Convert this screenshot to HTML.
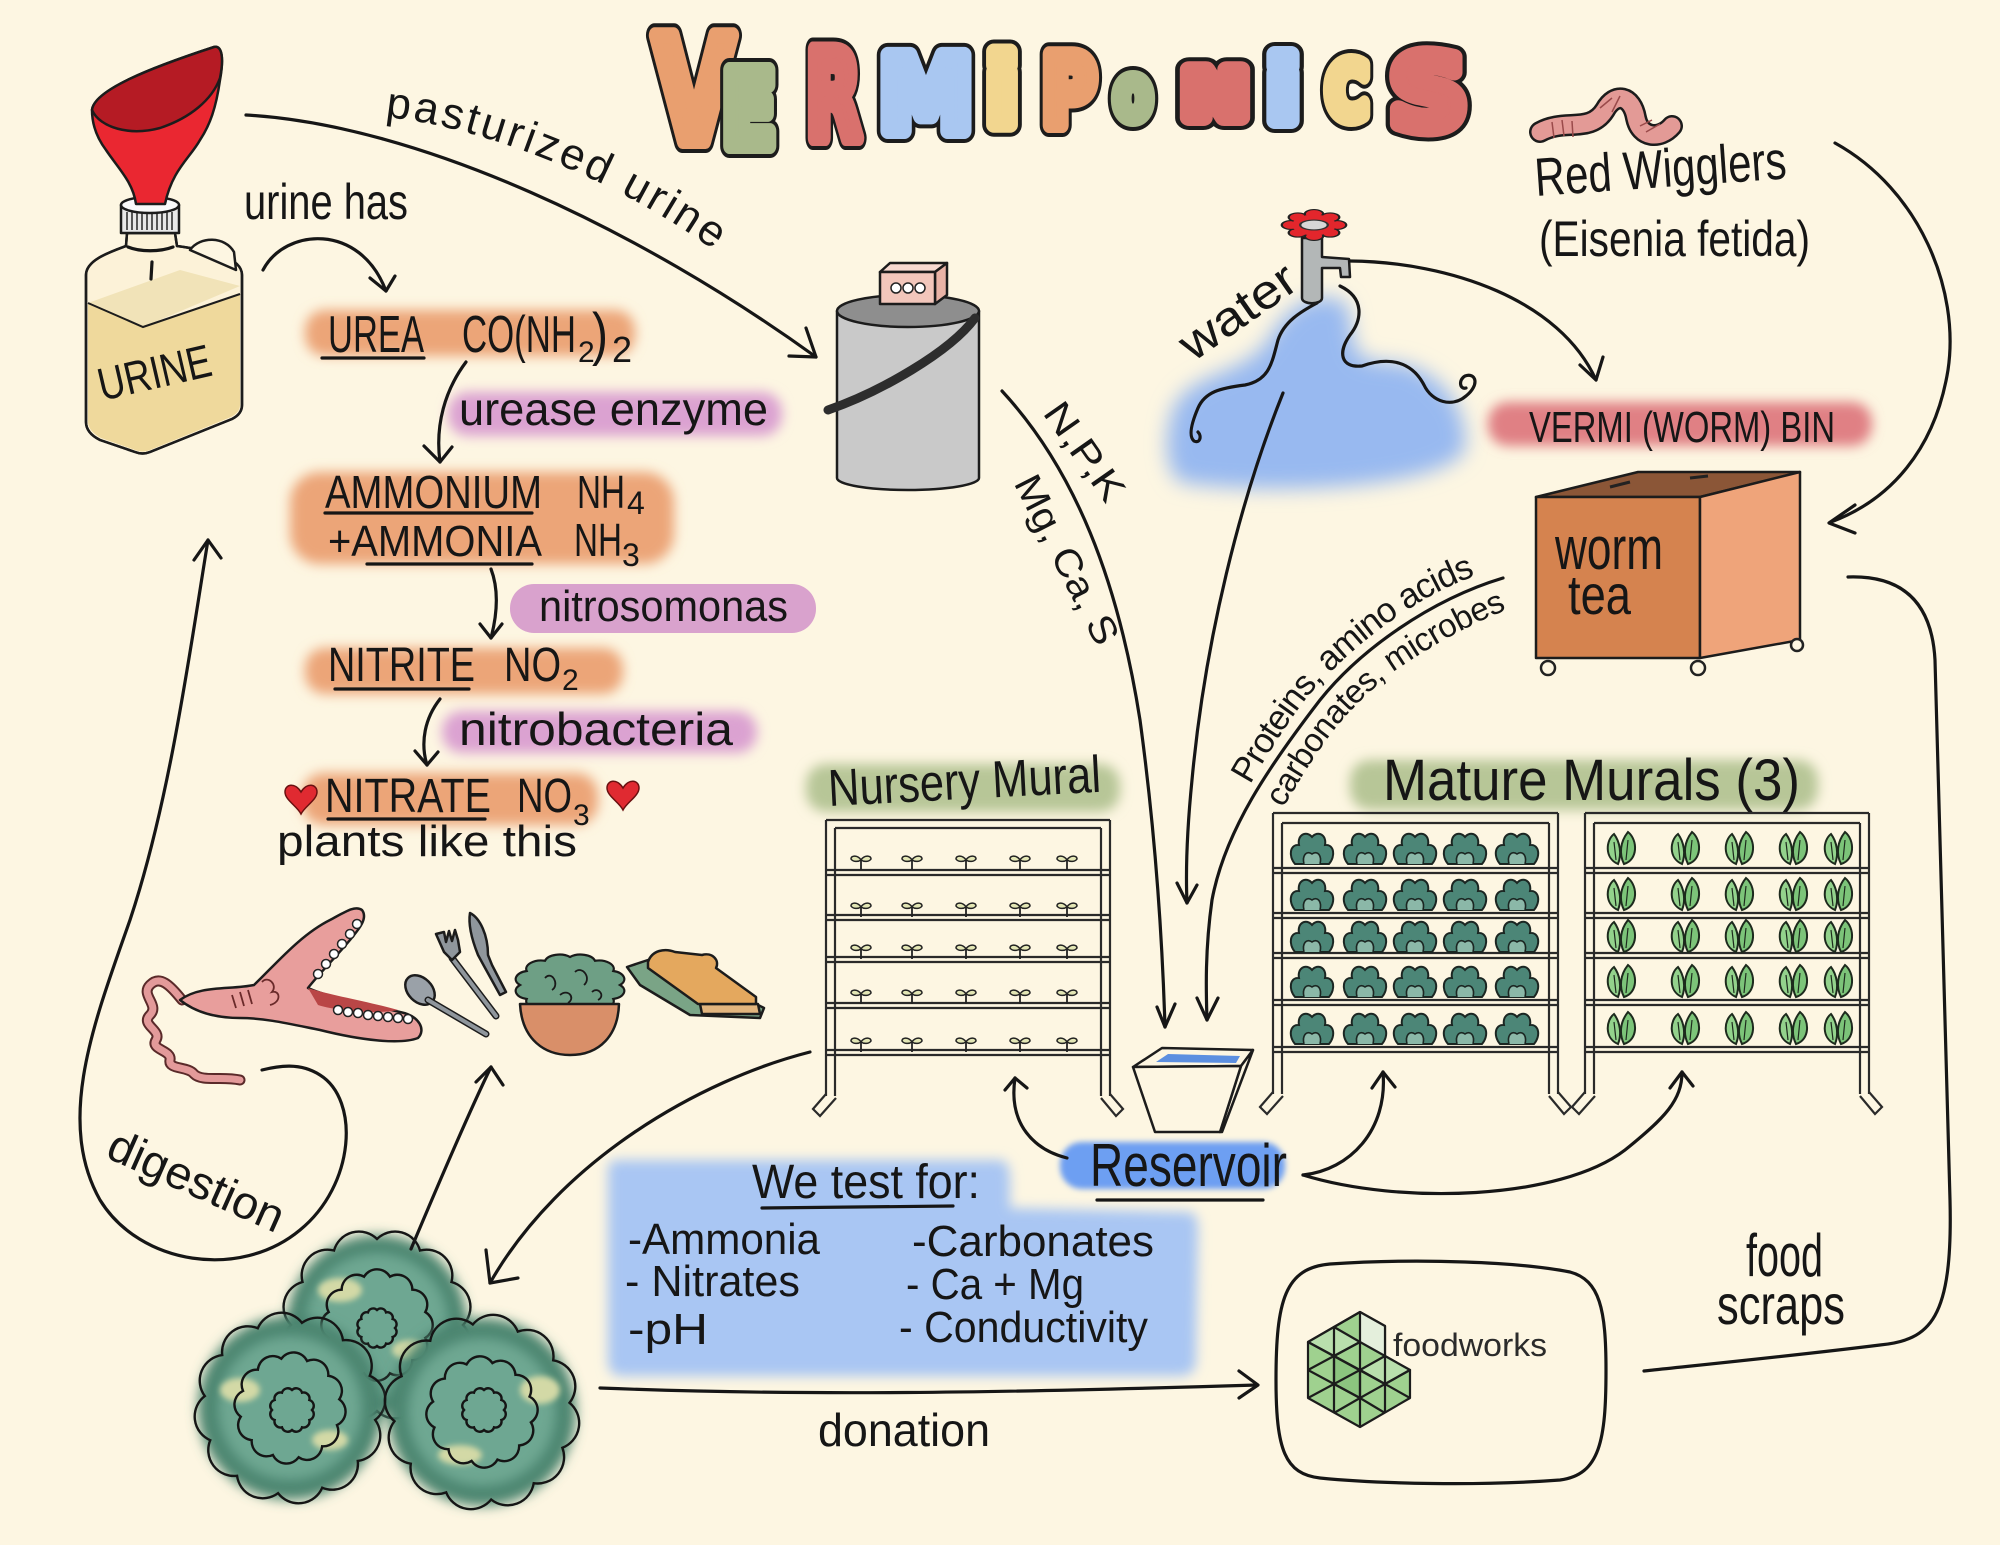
<!DOCTYPE html>
<html><head><meta charset="utf-8"><title>Vermiponics</title>
<style>
html,body{margin:0;padding:0;background:#fdf6e2;width:2000px;height:1545px;overflow:hidden}
svg{display:block}
.l{fill:none;stroke:#161616;stroke-width:3.2;stroke-linecap:round;stroke-linejoin:round}
.t{font-family:"Liberation Sans",sans-serif;fill:#161616}
.r{fill:none;stroke:#2a2a2a;stroke-width:2.2}
.o{stroke:#1c1c1c;stroke-width:2.5;stroke-linejoin:round}
.sco{fill:none;stroke:#151515;stroke-width:2.4}
</style></head><body>
<svg width="2000" height="1545" viewBox="0 0 2000 1545" xmlns="http://www.w3.org/2000/svg">
<defs>
<filter id="b6" x="-40%" y="-80%" width="180%" height="260%"><feGaussianBlur stdDeviation="6"/></filter>
<filter id="b10" x="-40%" y="-80%" width="180%" height="260%"><feGaussianBlur stdDeviation="10"/></filter>
<filter id="b3" x="-30%" y="-30%" width="160%" height="160%"><feGaussianBlur stdDeviation="3"/></filter>
<path id="sc" vector-effect="non-scaling-stroke" d="M100,0 A30,30 0 0 1 86.6,50 A30,30 0 0 1 50,86.6 A30,30 0 0 1 0,100 A30,30 0 0 1 -50,86.6 A30,30 0 0 1 -86.6,50 A30,30 0 0 1 -100,0 A30,30 0 0 1 -86.6,-50 A30,30 0 0 1 -50,-86.6 A30,30 0 0 1 0,-100 A30,30 0 0 1 50,-86.6 A30,30 0 0 1 86.6,-50 A30,30 0 0 1 100,0 Z"/>
<g id="lt">
<path d="M-17,14 C-24,6 -22,-6 -13,-5 C-15,-15 -6,-20 0,-13 C6,-20 15,-15 13,-5 C22,-6 24,6 17,14 Z" fill="#4c8677" stroke="#1b2622" stroke-width="2"/>
<path d="M-8,14 C-10,6 -6,0 0,4 C6,0 10,6 8,14" fill="#8bb8a8" stroke="#1b2622" stroke-width="1.6"/>
</g>
<g id="lf">
<path d="M-4,14 C-18,8 -16,-10 -8,-16 C-2,-8 0,4 -4,14 Z" fill="#93d28c" stroke="#1d2a1d" stroke-width="2"/>
<path d="M2,14 C16,10 16,-10 6,-18 C-2,-8 -3,4 2,14 Z" fill="#7cc479" stroke="#1d2a1d" stroke-width="2"/>
<path d="M-6,10 L-8,-8 M4,10 L6,-10" stroke="#1d2a1d" stroke-width="1.2" fill="none"/>
</g>
<g id="sd">
<path d="M0,7 L0,-3" stroke="#222" stroke-width="1.8" fill="none"/>
<path d="M0,-3 C-3,-8 -10,-8 -10,-4 C-8,-1 -3,-1 0,-3 Z M0,-3 C3,-8 10,-8 10,-4 C8,-1 3,-1 0,-3 Z" fill="#e3e6b4" stroke="#222" stroke-width="1.5"/>
</g>
<path id="hrt" d="M0,14 C-4,6 -16,0 -16,-8 C-16,-16 -6,-18 0,-8 C6,-18 16,-16 16,-8 C16,0 4,6 0,14 Z"/>
<path id="pp" d="M385,117 C470,125 600,170 708,246" fill="none"/>
<path id="p1" d="M1250,785 C1270,750 1292,716 1310,694 C1337,663 1378,626 1427,598 C1448,586 1473,575 1505,567" fill="none"/>
<path id="p2" d="M1283,808 C1300,780 1320,745 1345,717 C1365,695 1382,680 1402,666 C1432,646 1472,622 1522,604" fill="none"/>
</defs>
<rect width="2000" height="1545" fill="#fdf6e2"/>

<!-- TITLE -->
<g font-family="DejaVu Sans, sans-serif" font-weight="bold" stroke-linejoin="round">
<text x="654" y="141" font-size="145" textLength="80" lengthAdjust="spacingAndGlyphs" fill="#1c1c1c" stroke="#1c1c1c" stroke-width="24">V</text>
<text x="654" y="141" font-size="145" textLength="80" lengthAdjust="spacingAndGlyphs" fill="#e99f6f" stroke="#e99f6f" stroke-width="16">V</text>
<text x="722" y="146" font-size="104" textLength="54" lengthAdjust="spacingAndGlyphs" fill="#1c1c1c" stroke="#1c1c1c" stroke-width="24">E</text>
<text x="722" y="146" font-size="104" textLength="54" lengthAdjust="spacingAndGlyphs" fill="#a9b98b" stroke="#a9b98b" stroke-width="16">E</text>
<text x="806" y="138" font-size="121" textLength="55" lengthAdjust="spacingAndGlyphs" fill="#1c1c1c" stroke="#1c1c1c" stroke-width="24">R</text>
<text x="806" y="138" font-size="121" textLength="55" lengthAdjust="spacingAndGlyphs" fill="#d9716d" stroke="#d9716d" stroke-width="16">R</text>
<text x="879" y="131" font-size="104" textLength="94" lengthAdjust="spacingAndGlyphs" fill="#1c1c1c" stroke="#1c1c1c" stroke-width="24">M</text>
<text x="879" y="131" font-size="104" textLength="94" lengthAdjust="spacingAndGlyphs" fill="#a9c7f1" stroke="#a9c7f1" stroke-width="16">M</text>
<text x="986" y="125" font-size="96" textLength="32" lengthAdjust="spacingAndGlyphs" fill="#1c1c1c" stroke="#1c1c1c" stroke-width="24">i</text>
<text x="986" y="125" font-size="96" textLength="32" lengthAdjust="spacingAndGlyphs" fill="#f2d68f" stroke="#f2d68f" stroke-width="16">i</text>
<text x="1042" y="125" font-size="97" textLength="54" lengthAdjust="spacingAndGlyphs" fill="#1c1c1c" stroke="#1c1c1c" stroke-width="24">P</text>
<text x="1042" y="125" font-size="97" textLength="54" lengthAdjust="spacingAndGlyphs" fill="#e99f6f" stroke="#e99f6f" stroke-width="16">P</text>
<text x="1115" y="118" font-size="54" textLength="36" lengthAdjust="spacingAndGlyphs" fill="#1c1c1c" stroke="#1c1c1c" stroke-width="24">O</text>
<text x="1115" y="118" font-size="54" textLength="36" lengthAdjust="spacingAndGlyphs" fill="#a9b98b" stroke="#a9b98b" stroke-width="16">O</text>
<text x="1182" y="118" font-size="67" textLength="66" lengthAdjust="spacingAndGlyphs" fill="#1c1c1c" stroke="#1c1c1c" stroke-width="24">N</text>
<text x="1182" y="118" font-size="67" textLength="66" lengthAdjust="spacingAndGlyphs" fill="#d9716d" stroke="#d9716d" stroke-width="16">N</text>
<text x="1267" y="121" font-size="88" textLength="32" lengthAdjust="spacingAndGlyphs" fill="#1c1c1c" stroke="#1c1c1c" stroke-width="24">i</text>
<text x="1267" y="121" font-size="88" textLength="32" lengthAdjust="spacingAndGlyphs" fill="#a9c7f1" stroke="#a9c7f1" stroke-width="16">i</text>
<text x="1326" y="118" font-size="77" textLength="42" lengthAdjust="spacingAndGlyphs" fill="#1c1c1c" stroke="#1c1c1c" stroke-width="24">C</text>
<text x="1326" y="118" font-size="77" textLength="42" lengthAdjust="spacingAndGlyphs" fill="#f2d68f" stroke="#f2d68f" stroke-width="16">C</text>
<text x="1390" y="128" font-size="101" textLength="77" lengthAdjust="spacingAndGlyphs" fill="#1c1c1c" stroke="#1c1c1c" stroke-width="24">S</text>
<text x="1390" y="128" font-size="101" textLength="77" lengthAdjust="spacingAndGlyphs" fill="#d9716d" stroke="#d9716d" stroke-width="16">S</text>
</g>

<!-- HIGHLIGHTS -->
<rect x="305" y="310" width="330" height="46" rx="20" fill="#eca578" filter="url(#b6)"/>
<rect x="448" y="392" width="334" height="44" rx="20" fill="#dba2d1" filter="url(#b6)"/>
<rect x="290" y="472" width="384" height="92" rx="30" fill="#eca578" filter="url(#b6)"/>
<rect x="510" y="584" width="306" height="49" rx="24" fill="#d9a2cd"/>
<rect x="305" y="648" width="318" height="46" rx="20" fill="#eca578" filter="url(#b6)"/>
<rect x="442" y="711" width="315" height="42" rx="20" fill="#dba2d1" filter="url(#b6)"/>
<rect x="302" y="773" width="296" height="52" rx="22" fill="#eca578" filter="url(#b6)"/>
<rect x="1488" y="402" width="384" height="44" rx="20" fill="#e08084" filter="url(#b6)"/>
<rect x="806" y="764" width="314" height="48" rx="20" fill="#b7c697" filter="url(#b6)"/>
<rect x="1350" y="760" width="468" height="50" rx="20" fill="#b7c697" filter="url(#b6)"/>
<path d="M618,1160 L1000,1160 C1008,1160 1010,1170 1010,1180 L1010,1208 L1188,1212 C1196,1212 1198,1220 1198,1230 L1196,1362 C1196,1372 1188,1376 1180,1376 L622,1376 C612,1376 608,1370 608,1360 L608,1170 C608,1162 612,1160 618,1160 Z" fill="#a9c6f3" filter="url(#b6)"/>
<rect x="1060" y="1142" width="225" height="47" rx="22" fill="#6d9ff2" filter="url(#b3)"/>
<path d="M1170,420 C1180,370 1240,380 1268,340 C1290,300 1320,290 1345,302 C1360,330 1340,360 1385,362 C1430,362 1470,400 1465,450 C1440,492 1250,495 1180,482 C1165,470 1165,440 1170,420 Z" fill="#98b9f0" filter="url(#b10)"/>

<!-- BOTTLE -->
<path class="o" d="M127,233 L175,233 L177,246 C205,250 242,256 242,275 L242,405 C242,412 238,416 232,419 L150,452 C145,454 140,454 135,452 L100,440 C92,436 86,430 86,422 L86,275 C86,260 110,252 126,246 Z" fill="#fcf2d8"/>
<path d="M88,303 L143,327 L240,294 L240,405 C240,411 236,414 231,417 L150,450 C145,452 140,452 135,450 L101,438 C94,434 88,429 88,421 Z" fill="#efd99c"/>
<path d="M88,303 L180,270 L240,286 L143,327 Z" fill="#f1e3b8"/>
<path d="M88,303 L143,327 L240,294" fill="none" stroke="#1c1c1c" stroke-width="2"/>
<path class="o" fill="none" d="M127,233 L175,233 L177,246 C205,250 242,256 242,275 L242,405 C242,412 238,416 232,419 L150,452 C145,454 140,454 135,452 L100,440 C92,436 86,430 86,422 L86,275 C86,260 110,252 126,246 Z"/>
<path class="o" d="M190,250 C200,236 225,236 234,252 L236,270 Z" fill="#fdf6e2"/>
<path class="l" stroke-width="2" d="M152,262 L151,279"/>
<path class="l" stroke-width="2" d="M128,247 C140,252 160,252 173,247"/>
<rect class="o" x="121" y="205" width="58" height="28" fill="#e8e8e8"/>
<path d="M127,212 L127,230 M132,212 L132,230 M137,212 L137,230 M142,212 L142,230 M147,212 L147,230 M152,212 L152,230 M157,212 L157,230 M162,212 L162,230 M167,212 L167,230 M172,212 L172,230" stroke="#333" stroke-width="1.6"/>
<ellipse class="o" cx="150" cy="205" rx="29" ry="8" fill="#fafafa"/>
<path class="o" d="M92,110 C94,90 150,68 214,47 C222,45 224,58 220,80 C216,108 210,125 200,140 C190,158 172,170 165,204 L136,204 C133,182 118,168 106,150 C97,138 92,125 92,110 Z" fill="#ea2731"/>
<path class="o" d="M92,110 C94,90 150,68 214,47 C222,45 224,58 220,78 C212,100 190,118 160,128 C130,136 100,128 92,110 Z" fill="#b51b24"/>
<text class="t" font-size="46" text-anchor="middle" transform="translate(158,388) rotate(-13)" textLength="115" lengthAdjust="spacingAndGlyphs">URINE</text>

<!-- PASTEURIZER -->
<path class="o" d="M837,311 L837,478 A71,12 0 0 0 979,478 L979,311 Z" fill="#c9c9c9"/>
<ellipse class="o" cx="908" cy="311" rx="71" ry="16" fill="#8e8e8e"/>
<path d="M975,318 C950,352 880,392 828,410" fill="none" stroke="#2d2d2d" stroke-width="9" stroke-linecap="round"/>
<path d="M880,272 L890,263 L947,263 L935,272 Z" class="o" fill="#f7d9d0"/>
<path d="M935,272 L947,263 L947,295 L935,304 Z" class="o" fill="#e9b3a6"/>
<rect class="o" x="880" y="272" width="55" height="32" fill="#f2c6bb"/>
<circle cx="896" cy="288" r="5" fill="#fff" stroke="#222" stroke-width="1.5"/>
<circle cx="908" cy="288" r="5" fill="#fff" stroke="#222" stroke-width="1.5"/>
<circle cx="920" cy="288" r="5" fill="#fff" stroke="#222" stroke-width="1.5"/>

<!-- TEXT LEFT -->
<text class="t" font-size="44" letter-spacing="3"><textPath href="#pp">pasturized urine</textPath></text>
<text class="t" font-size="50" x="244" y="219" textLength="164" lengthAdjust="spacingAndGlyphs">urine has</text>
<text class="t" font-size="52" x="328" y="352" textLength="96" lengthAdjust="spacingAndGlyphs">UREA</text>
<text class="t" font-size="52" x="462" y="352" textLength="114" lengthAdjust="spacingAndGlyphs">CO(NH</text>
<text class="t" font-size="30" x="578" y="362">2</text>
<text class="t" font-size="58" x="592" y="354" textLength="16" lengthAdjust="spacingAndGlyphs">)</text>
<text class="t" font-size="36" x="612" y="362">2</text>
<text class="t" font-size="46" x="459" y="425" textLength="309" lengthAdjust="spacingAndGlyphs">urease enzyme</text>
<text class="t" font-size="46" x="325" y="508" textLength="217" lengthAdjust="spacingAndGlyphs">AMMONIUM</text>
<text class="t" font-size="46" x="577" y="508" textLength="48" lengthAdjust="spacingAndGlyphs">NH</text>
<text class="t" font-size="32" x="627" y="514">4</text>
<text class="t" font-size="44" x="328" y="556" textLength="214" lengthAdjust="spacingAndGlyphs">+AMMONIA</text>
<text class="t" font-size="46" x="574" y="556" textLength="48" lengthAdjust="spacingAndGlyphs">NH</text>
<text class="t" font-size="32" x="622" y="566">3</text>
<text class="t" font-size="44" x="539" y="621" textLength="249" lengthAdjust="spacingAndGlyphs">nitrosomonas</text>
<text class="t" font-size="48" x="328" y="681" textLength="147" lengthAdjust="spacingAndGlyphs">NITRITE</text>
<text class="t" font-size="48" x="504" y="681" textLength="57" lengthAdjust="spacingAndGlyphs">NO</text>
<text class="t" font-size="30" x="562" y="690">2</text>
<text class="t" font-size="46" x="459" y="745" textLength="274" lengthAdjust="spacingAndGlyphs">nitrobacteria</text>
<text class="t" font-size="48" x="325" y="812" textLength="166" lengthAdjust="spacingAndGlyphs">NITRATE</text>
<text class="t" font-size="48" x="517" y="812" textLength="55" lengthAdjust="spacingAndGlyphs">NO</text>
<text class="t" font-size="30" x="573" y="825">3</text>
<text class="t" font-size="44" x="277" y="856" textLength="300" lengthAdjust="spacingAndGlyphs">plants like this</text>
<use href="#hrt" transform="translate(301,800)" fill="#e02a31" stroke="#6a1010" stroke-width="1.5"/>
<use href="#hrt" transform="translate(623,796)" fill="#e02a31" stroke="#6a1010" stroke-width="1.5"/>
<path class="l" stroke-width="3" d="M322,358 L424,358 M325,513 L532,513 M367,564 L532,564 M335,689 L469,689 M328,819 L485,819"/>

<!-- LEFT ARROWS -->
<path class="l" d="M246,115 C420,125 640,230 816,357"/>
<path class="l" d="M806,328 L816,357 L789,356"/>
<path class="l" d="M263,270 C285,228 360,222 386,291"/>
<path class="l" d="M370,278 L386,291 L395,276"/>
<path class="l" d="M466,362 C445,390 435,425 440,462"/>
<path class="l" d="M424,446 L440,462 L452,447"/>
<path class="l" d="M491,569 C499,590 497,615 491,638"/>
<path class="l" d="M480,624 L491,638 L502,624"/>
<path class="l" d="M440,699 C425,718 420,742 427,765"/>
<path class="l" d="M415,751 L427,765 L438,752"/>
<path class="l" d="M208,540 C190,650 170,800 130,920 C95,1020 55,1120 100,1200 C140,1265 240,1280 300,1230 C355,1185 360,1100 320,1075 C300,1062 278,1066 262,1070"/>
<path class="l" d="M194,560 L208,540 L221,558"/>
<text class="t" font-size="46" text-anchor="middle" transform="translate(190,1195) rotate(24)" textLength="188" lengthAdjust="spacingAndGlyphs">digestion</text>

<!-- MOUTH & FOOD -->
<path d="M182,1000 C170,985 160,975 150,985 C140,995 160,1005 150,1015 C140,1025 162,1030 156,1040 C150,1050 172,1050 170,1060 C168,1070 188,1066 194,1074 C202,1082 222,1076 240,1080" fill="none" stroke="#5a2a2a" stroke-width="11" stroke-linecap="round" stroke-linejoin="round"/>
<path d="M182,1000 C170,985 160,975 150,985 C140,995 160,1005 150,1015 C140,1025 162,1030 156,1040 C150,1050 172,1050 170,1060 C168,1070 188,1066 194,1074 C202,1082 222,1076 240,1080" fill="none" stroke="#e39a9a" stroke-width="7" stroke-linecap="round" stroke-linejoin="round"/>
<path class="o" d="M180,1000 C200,985 230,990 254,985 C275,965 300,935 330,920 C345,912 355,905 362,910 C368,918 360,928 350,940 C335,958 318,975 308,988 C330,998 370,1005 400,1012 C420,1016 426,1030 418,1038 C400,1045 360,1040 320,1030 C290,1024 265,1018 240,1018 C215,1018 195,1012 180,1000 Z" fill="#e89e9c"/>
<path d="M308,988 C330,995 370,1002 398,1010 C380,1014 340,1012 318,1005 Z" fill="#b94646"/>
<g fill="#fff" stroke="#222" stroke-width="1.5">
<circle cx="357" cy="924" r="4.5"/><circle cx="350" cy="934" r="4.5"/><circle cx="342" cy="944" r="4.5"/><circle cx="334" cy="954" r="4.5"/><circle cx="326" cy="964" r="4.5"/><circle cx="318" cy="974" r="4.5"/>
<circle cx="338" cy="1010" r="4.5"/><circle cx="348" cy="1012" r="4.5"/><circle cx="358" cy="1013" r="4.5"/><circle cx="368" cy="1015" r="4.5"/><circle cx="378" cy="1016" r="4.5"/><circle cx="388" cy="1017" r="4.5"/><circle cx="398" cy="1018" r="4.5"/><circle cx="408" cy="1019" r="4.5"/>
</g>
<path d="M232,995 L236,1008 M240,992 L244,1006 M248,990 L252,1004 M262,982 C268,975 278,985 272,992 C280,990 282,1002 270,1005" fill="none" stroke="#6a2a2a" stroke-width="1.8"/>
<ellipse class="o" cx="420" cy="990" rx="12" ry="17" transform="rotate(-45 420 990)" fill="#9aa1a8"/>
<path d="M428,1000 L486,1034" stroke="#1c1c1c" stroke-width="7" stroke-linecap="round"/>
<path d="M428,1000 L486,1034" stroke="#8f969c" stroke-width="4" stroke-linecap="round"/>
<path d="M452,958 L496,1016" stroke="#1c1c1c" stroke-width="7" stroke-linecap="round"/>
<path d="M452,958 L496,1016" stroke="#8f969c" stroke-width="4" stroke-linecap="round"/>
<path class="o" d="M436,934 L444,932 L446,942 L449,931 L452,941 L455,930 L458,940 L460,952 L452,960 L444,952 Z" fill="#8f969c"/>
<path class="o" d="M470,913 C480,918 488,935 488,955 L492,965 L506,992 L500,995 L484,966 L478,955 C472,940 468,925 470,913 Z" fill="#8f969c"/>
<use href="#sc" transform="translate(570,985) scale(0.5,0.28)" fill="#6e9f85" stroke="#1a1a1a" stroke-width="2.2"/>
<path d="M545,978 C552,970 560,985 552,990 M575,972 C582,965 592,978 584,985 M560,995 C568,988 576,998 568,1003 M592,992 C598,986 606,996 598,1000" fill="none" stroke="#1a1a1a" stroke-width="1.8"/>
<path class="o" d="M520,1004 C522,1040 545,1055 570,1055 C600,1055 618,1035 619,1004 Z" fill="#d98f69"/>
<path class="o" d="M627,967 L648,960 L700,975 L764,1008 L760,1018 L690,1015 L640,985 Z" fill="#7aa486"/>
<path class="o" d="M700,1004 L758,1004 L760,1014 L702,1014 Z" fill="#e2b57e"/>
<path class="o" d="M648,962 C652,950 665,948 675,952 L702,955 C712,952 720,960 716,968 L756,997 L756,1004 L698,1004 L648,968 Z" fill="#e4a85e"/>

<!-- LETTUCE PILE -->
<g>
<circle cx="377" cy="1325" r="90" fill="#4b8570" filter="url(#b6)"/>
<circle cx="377" cy="1325" r="72" fill="#6ea792" filter="url(#b6)"/>
<ellipse cx="340" cy="1290" rx="22" ry="12" fill="#d3d9a6" filter="url(#b3)"/>
<ellipse cx="410" cy="1350" rx="18" ry="10" fill="#d3d9a6" filter="url(#b3)"/>
<use href="#sc" class="sco" transform="translate(377,1325) scale(0.86)"/>
<use href="#sc" class="sco" transform="translate(377,1325) rotate(15) scale(0.5)"/>
<use href="#sc" class="sco" transform="translate(377,1328) scale(0.18)" style="fill:#6ea792"/>
</g>
<g>
<circle cx="290" cy="1408" r="92" fill="#4b8570" filter="url(#b6)"/>
<circle cx="290" cy="1408" r="72" fill="#6ea792" filter="url(#b6)"/>
<ellipse cx="240" cy="1390" rx="20" ry="12" fill="#d3d9a6" filter="url(#b3)"/>
<ellipse cx="330" cy="1440" rx="18" ry="10" fill="#d3d9a6" filter="url(#b3)"/>
<use href="#sc" class="sco" transform="translate(290,1408) rotate(8) scale(0.86)"/>
<use href="#sc" class="sco" transform="translate(290,1408) rotate(20) scale(0.5)"/>
<use href="#sc" class="sco" transform="translate(292,1410) scale(0.2)" style="fill:#6ea792"/>
</g>
<g>
<circle cx="482" cy="1412" r="94" fill="#4b8570" filter="url(#b6)"/>
<circle cx="482" cy="1412" r="74" fill="#6ea792" filter="url(#b6)"/>
<ellipse cx="540" cy="1390" rx="20" ry="14" fill="#d3d9a6" filter="url(#b3)"/>
<ellipse cx="460" cy="1455" rx="22" ry="10" fill="#d3d9a6" filter="url(#b3)"/>
<use href="#sc" class="sco" transform="translate(482,1412) rotate(-6) scale(0.88)"/>
<use href="#sc" class="sco" transform="translate(482,1412) rotate(12) scale(0.5)"/>
<use href="#sc" class="sco" transform="translate(484,1410) scale(0.2)" style="fill:#6ea792"/>
</g>

<path class="l" d="M810,1052 C700,1080 560,1160 490,1283"/>
<path class="l" d="M486,1250 L490,1283 L518,1278"/>
<path class="l" d="M411,1249 C440,1180 470,1110 491,1067"/>
<path class="l" d="M476,1082 L491,1067 L503,1085"/>

<!-- TEST BOX TEXT -->
<text class="t" font-size="48" x="752" y="1198" textLength="228" lengthAdjust="spacingAndGlyphs">We test for:</text>
<path class="l" d="M762,1208 L953,1206"/>
<text class="t" font-size="44" x="628" y="1254" textLength="192" lengthAdjust="spacingAndGlyphs">-Ammonia</text>
<text class="t" font-size="44" x="625" y="1296" textLength="175" lengthAdjust="spacingAndGlyphs">- Nitrates</text>
<text class="t" font-size="44" x="628" y="1344" textLength="80" lengthAdjust="spacingAndGlyphs">-pH</text>
<text class="t" font-size="44" x="912" y="1256" textLength="242" lengthAdjust="spacingAndGlyphs">-Carbonates</text>
<text class="t" font-size="44" x="906" y="1299" textLength="178" lengthAdjust="spacingAndGlyphs">- Ca + Mg</text>
<text class="t" font-size="44" x="899" y="1342" textLength="249" lengthAdjust="spacingAndGlyphs">- Conductivity</text>

<path class="l" d="M600,1388 C800,1396 1000,1393 1257,1385"/>
<path class="l" d="M1239,1371 L1258,1385 L1239,1398"/>
<text class="t" font-size="46" x="818" y="1446" textLength="172" lengthAdjust="spacingAndGlyphs">donation</text>

<!-- FOODWORKS -->
<path class="l" d="M1330,1264 C1420,1258 1520,1262 1570,1272 C1600,1280 1606,1310 1606,1370 C1606,1440 1600,1475 1560,1480 C1480,1486 1380,1484 1320,1478 C1285,1474 1276,1450 1276,1380 C1276,1300 1285,1268 1330,1264 Z"/>
<g stroke="#1c1c1c" stroke-width="2.2" stroke-linejoin="round">
<path d="M1308,1342 L1360,1312 L1385,1326 L1385,1356 L1410,1370 L1410,1398 L1360,1427 L1308,1398 Z" fill="#9fd18f"/>
<path d="M1360,1312 L1385,1326 L1385,1356 L1360,1342 Z" fill="#e4efdc"/>
<path d="M1308,1342 L1334,1327 L1360,1342 L1334,1356 Z" fill="#b9dfad"/>
<path d="M1334,1356 L1360,1370 L1360,1398 L1334,1384 Z" fill="#8cc57f"/>
<path d="M1385,1356 L1410,1370 L1385,1384 L1360,1370 Z" fill="#b9dfad"/>
<path fill="none" d="M1334,1327 L1360,1312 M1334,1327 L1334,1413 M1360,1342 L1360,1427 M1385,1356 L1385,1413 M1308,1370 L1360,1342 M1308,1370 L1360,1398 L1410,1370 M1308,1398 L1360,1370 L1410,1398 M1334,1356 L1385,1384 M1308,1342 L1385,1384 M1308,1370 L1334,1384 M1334,1413 L1360,1398 L1385,1413"/>
</g>
<text x="1393" y="1356" font-family="Liberation Sans, sans-serif" font-size="32" fill="#2b2b2b" textLength="154" lengthAdjust="spacingAndGlyphs">foodworks</text>

<!-- MIDDLE LINES -->
<path class="l" d="M1002,391 C1075,470 1118,580 1140,720 C1155,830 1162,930 1165,1027"/>
<path class="l" d="M1157,1007 L1165,1027 L1175,1004"/>
<path class="l" d="M1283,393 C1240,500 1205,640 1192,780 C1186,840 1186,880 1187,903"/>
<path class="l" d="M1177,883 L1187,903 L1197,885"/>
<path class="l" d="M1503,578 C1430,600 1360,650 1320,700 C1270,765 1225,830 1212,900 C1205,950 1206,990 1207,1020"/>
<path class="l" d="M1197,998 L1207,1020 L1218,998"/>
<text class="t" font-size="38" text-anchor="middle" dominant-baseline="central" transform="translate(1084,452) rotate(55)" textLength="112" lengthAdjust="spacingAndGlyphs">N,P,K</text>
<text class="t" font-size="38" text-anchor="middle" dominant-baseline="central" transform="translate(1066,560) rotate(63)" textLength="185" lengthAdjust="spacingAndGlyphs">Mg, Ca, S</text>
<text class="t" font-size="35" letter-spacing="-1"><textPath href="#p1">Proteins, amino acids</textPath></text>
<text class="t" font-size="33" letter-spacing="-0.5"><textPath href="#p2">carbonates, microbes</textPath></text>

<!-- WATER -->
<path class="l" stroke-width="2.8" d="M1340,286 C1365,298 1362,320 1350,335 C1338,352 1340,368 1362,366 C1390,356 1412,362 1424,385 C1432,402 1452,408 1466,396 C1480,385 1476,372 1465,376 C1458,380 1460,390 1466,388"/>
<path class="l" stroke-width="2.8" d="M1317,303 C1300,312 1284,322 1278,340 C1272,362 1270,380 1245,385 C1220,388 1205,392 1198,408 C1192,422 1188,436 1194,441 C1200,444 1202,436 1198,432"/>
<text class="t" font-size="48" text-anchor="middle" dominant-baseline="central" transform="translate(1238,312) rotate(-35)" textLength="132" lengthAdjust="spacingAndGlyphs">water</text>
<path class="o" d="M1302,238 L1302,298 C1302,305 1322,305 1322,298 L1322,268 L1340,268 L1341,277 L1350,277 L1349,259 L1322,257 L1322,238 Z" fill="#b3b7b7"/>
<g transform="translate(1314,225) scale(1.15,0.55)" fill="#e3262c" stroke="#222" stroke-width="2">
<circle cx="20" cy="0" r="8"/><circle cx="14" cy="14" r="8"/><circle cx="0" cy="20" r="8"/><circle cx="-14" cy="14" r="8"/><circle cx="-20" cy="0" r="8"/><circle cx="-14" cy="-14" r="8"/><circle cx="0" cy="-20" r="8"/><circle cx="14" cy="-14" r="8"/>
<circle cx="0" cy="0" r="19" stroke="none"/>
<ellipse cx="0" cy="0" rx="12" ry="9" fill="#d7d7d7" stroke="#333"/>
</g>
<path class="l" d="M1350,261 C1450,262 1560,300 1596,380"/>
<path class="l" d="M1580,365 L1596,380 L1603,357"/>

<!-- WORM -->
<path d="M1540,132 C1565,118 1590,134 1605,110 C1615,92 1632,95 1636,118 C1640,138 1660,140 1672,126" fill="none" stroke="#1c1c1c" stroke-width="22" stroke-linecap="round"/>
<path d="M1540,132 C1565,118 1590,134 1605,110 C1615,92 1632,95 1636,118 C1640,138 1660,140 1672,126" fill="none" stroke="#e39a96" stroke-width="17" stroke-linecap="round"/>
<path d="M1552,122 L1554,138 M1562,120 L1564,136 M1572,121 L1573,137 M1612,98 L1600,108 M1620,96 L1612,112 M1640,126 L1652,120 M1646,132 L1660,124" stroke="#9a4a4a" stroke-width="1.5"/>
<text class="t" font-size="54" x="1536" y="196" textLength="252" lengthAdjust="spacingAndGlyphs" transform="rotate(-4 1536 196)">Red Wigglers</text>
<text class="t" font-size="50" x="1539" y="256" textLength="271" lengthAdjust="spacingAndGlyphs">(Eisenia fetida)</text>
<path class="l" d="M1835,143 C1920,190 1960,290 1948,370 C1935,450 1890,500 1831,522"/>
<path class="l" d="M1855,505 L1829,523 L1855,533"/>

<!-- VERMI BIN -->
<text class="t" font-size="44" x="1529" y="442" textLength="306" lengthAdjust="spacingAndGlyphs">VERMI (WORM) BIN</text>
<path class="o" d="M1536,497 L1638,472 L1800,472 L1700,497 Z" fill="#8b5637"/>
<rect class="o" x="1536" y="497" width="164" height="161" fill="#d5834f"/>
<path class="o" d="M1700,497 L1800,472 L1800,640 L1700,658 Z" fill="#efa47a"/>
<path d="M1610,487 L1630,482 M1690,478 L1708,476" stroke="#222" stroke-width="3"/>
<circle cx="1548" cy="668" r="7" fill="#fdf6e2" stroke="#222" stroke-width="2.5"/>
<circle cx="1698" cy="668" r="7" fill="#fdf6e2" stroke="#222" stroke-width="2.5"/>
<circle cx="1797" cy="645" r="6" fill="#fdf6e2" stroke="#222" stroke-width="2.5"/>
<text class="t" font-size="60" x="1555" y="569" textLength="108" lengthAdjust="spacingAndGlyphs">worm</text>
<text class="t" font-size="56" x="1568" y="614" textLength="63" lengthAdjust="spacingAndGlyphs">tea</text>
<path class="l" d="M1848,577 C1905,575 1932,605 1935,660 L1950,1200 C1953,1320 1930,1340 1880,1345 C1800,1355 1700,1365 1644,1371"/>
<text class="t" font-size="60" x="1746" y="1276" textLength="77" lengthAdjust="spacingAndGlyphs">food</text>
<text class="t" font-size="56" x="1717" y="1324" textLength="128" lengthAdjust="spacingAndGlyphs">scraps</text>

<!-- LABELS -->
<text class="t" font-size="52" x="829" y="806" textLength="273" lengthAdjust="spacingAndGlyphs" transform="rotate(-3 829 806)">Nursery Mural</text>
<text class="t" font-size="58" x="1383" y="800" textLength="417" lengthAdjust="spacingAndGlyphs">Mature Murals (3)</text>

<!-- NURSERY RACK -->
<path class="r" d="M826,820 L1110,820 M835,828 L1101,828 M826,820 L826,1096 M835,828 L835,1096 M1101,828 L1101,1096 M1110,820 L1110,1096 M826,870 L1110,870 M826,875 L1110,875 M826,915 L1110,915 M826,920 L1110,920 M826,957 L1110,957 M826,962 L1110,962 M826,1003 L1110,1003 M826,1008 L1110,1008 M826,1050 L1110,1050 M826,1055 L1110,1055"/>
<path class="r" d="M826,1094 L813,1109 L820,1116 L836,1098 M1101,1098 L1116,1116 L1123,1109 L1110,1094"/>
<use href="#sd" x="861" y="863"/><use href="#sd" x="912" y="863"/><use href="#sd" x="966" y="863"/><use href="#sd" x="1020" y="863"/><use href="#sd" x="1067" y="863"/>
<use href="#sd" x="861" y="910"/><use href="#sd" x="912" y="910"/><use href="#sd" x="966" y="910"/><use href="#sd" x="1020" y="910"/><use href="#sd" x="1067" y="910"/>
<use href="#sd" x="861" y="952"/><use href="#sd" x="912" y="952"/><use href="#sd" x="966" y="952"/><use href="#sd" x="1020" y="952"/><use href="#sd" x="1067" y="952"/>
<use href="#sd" x="861" y="997"/><use href="#sd" x="912" y="997"/><use href="#sd" x="966" y="997"/><use href="#sd" x="1020" y="997"/><use href="#sd" x="1067" y="997"/>
<use href="#sd" x="861" y="1045"/><use href="#sd" x="912" y="1045"/><use href="#sd" x="966" y="1045"/><use href="#sd" x="1020" y="1045"/><use href="#sd" x="1067" y="1045"/>

<!-- MATURE RACK 1 -->
<path class="r" d="M1273,813 L1558,813 M1282,823 L1549,823 M1273,813 L1273,1094 M1282,823 L1282,1094 M1549,823 L1549,1094 M1558,813 L1558,1094 M1273,868 L1558,868 M1273,873 L1558,873 M1273,913 L1558,913 M1273,918 L1558,918 M1273,953 L1558,953 M1273,958 L1558,958 M1273,1000 L1558,1000 M1273,1005 L1558,1005 M1273,1047 L1558,1047 M1273,1052 L1558,1052"/>
<path class="r" d="M1273,1092 L1260,1107 L1267,1114 L1283,1096 M1549,1096 L1564,1114 L1571,1107 L1558,1092"/>
<use href="#lt" x="1312" y="850"/><use href="#lt" x="1365" y="850"/><use href="#lt" x="1415" y="850"/><use href="#lt" x="1465" y="850"/><use href="#lt" x="1517" y="850"/>
<use href="#lt" x="1312" y="896"/><use href="#lt" x="1365" y="896"/><use href="#lt" x="1415" y="896"/><use href="#lt" x="1465" y="896"/><use href="#lt" x="1517" y="896"/>
<use href="#lt" x="1312" y="938"/><use href="#lt" x="1365" y="938"/><use href="#lt" x="1415" y="938"/><use href="#lt" x="1465" y="938"/><use href="#lt" x="1517" y="938"/>
<use href="#lt" x="1312" y="983"/><use href="#lt" x="1365" y="983"/><use href="#lt" x="1415" y="983"/><use href="#lt" x="1465" y="983"/><use href="#lt" x="1517" y="983"/>
<use href="#lt" x="1312" y="1030"/><use href="#lt" x="1365" y="1030"/><use href="#lt" x="1415" y="1030"/><use href="#lt" x="1465" y="1030"/><use href="#lt" x="1517" y="1030"/>

<!-- MATURE RACK 2 -->
<path class="r" d="M1585,813 L1869,813 M1594,823 L1860,823 M1585,813 L1585,1094 M1594,823 L1594,1094 M1860,823 L1860,1094 M1869,813 L1869,1094 M1585,868 L1869,868 M1585,873 L1869,873 M1585,913 L1869,913 M1585,918 L1869,918 M1585,953 L1869,953 M1585,958 L1869,958 M1585,1000 L1869,1000 M1585,1005 L1869,1005 M1585,1047 L1869,1047 M1585,1052 L1869,1052"/>
<path class="r" d="M1585,1092 L1572,1107 L1579,1114 L1595,1096 M1860,1096 L1875,1114 L1882,1107 L1869,1092"/>
<use href="#lf" x="1622" y="850"/><use href="#lf" x="1686" y="850"/><use href="#lf" x="1740" y="850"/><use href="#lf" x="1794" y="850"/><use href="#lf" x="1839" y="850"/>
<use href="#lf" x="1622" y="896"/><use href="#lf" x="1686" y="896"/><use href="#lf" x="1740" y="896"/><use href="#lf" x="1794" y="896"/><use href="#lf" x="1839" y="896"/>
<use href="#lf" x="1622" y="938"/><use href="#lf" x="1686" y="938"/><use href="#lf" x="1740" y="938"/><use href="#lf" x="1794" y="938"/><use href="#lf" x="1839" y="938"/>
<use href="#lf" x="1622" y="983"/><use href="#lf" x="1686" y="983"/><use href="#lf" x="1740" y="983"/><use href="#lf" x="1794" y="983"/><use href="#lf" x="1839" y="983"/>
<use href="#lf" x="1622" y="1030"/><use href="#lf" x="1686" y="1030"/><use href="#lf" x="1740" y="1030"/><use href="#lf" x="1794" y="1030"/><use href="#lf" x="1839" y="1030"/>

<!-- RESERVOIR -->
<path class="o" d="M1133,1067 L1162,1048 L1253,1050 L1241,1066 Z" fill="#fdf6e2"/>
<path d="M1156,1062 L1168,1054 L1240,1056 L1236,1063 Z" fill="#5c8fe0"/>
<path class="o" d="M1241,1066 L1253,1050 L1222,1132 L1220,1132 Z" fill="#fdf6e2"/>
<path class="o" d="M1133,1067 L1241,1066 L1220,1132 L1155,1132 Z" fill="#fdf6e2"/>
<text class="t" font-size="60" x="1090" y="1186" textLength="197" lengthAdjust="spacingAndGlyphs">Reservoir</text>
<path class="l" d="M1097,1200 L1263,1200"/>
<path class="l" d="M1067,1158 C1035,1150 1008,1125 1015,1078"/>
<path class="l" d="M1005,1090 L1015,1078 L1027,1088"/>
<path class="l" d="M1303,1175 C1350,1170 1388,1130 1383,1072"/>
<path class="l" d="M1372,1088 L1383,1072 L1395,1087"/>
<path class="l" d="M1303,1175 C1400,1205 1560,1200 1625,1150 C1665,1118 1682,1100 1682,1072"/>
<path class="l" d="M1670,1088 L1682,1072 L1693,1086"/>
</svg>
</body></html>
